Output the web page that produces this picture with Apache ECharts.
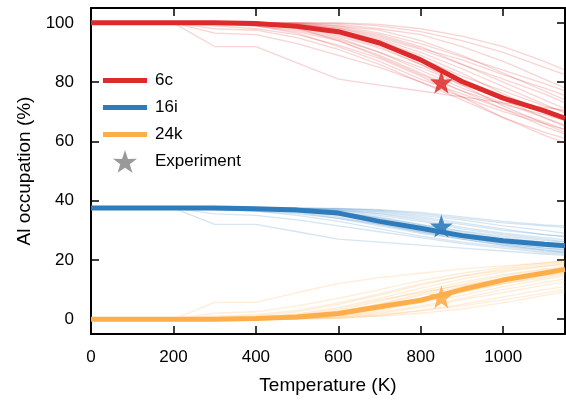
<!DOCTYPE html>
<html>
<head>
<meta charset="utf-8">
<script src="https://cdn.jsdelivr.net/npm/echarts@6/dist/echarts.min.js"></script>
<style>
  html, body { margin: 0; padding: 0; background: #fff; }
  #chart { width: 566px; height: 401px; }
</style>
</head>
<body>
<div id="chart"></div>
<script>
var temps = [0, 100, 200, 300, 400, 500, 600, 700, 800, 900, 1000, 1100, 1150]
var xTicks = [0, 200, 400, 600, 800, 1000]
var yTicks = [0, 20, 40, 60, 80, 100]

// averaged occupations
var occ6c = [100, 100, 100, 100, 99.8, 98.8, 97, 93.2, 87.5, 80.2, 74.6, 70.3, 67.8]
var occ16i = [37.5, 37.5, 37.5, 37.5, 37.3, 36.8, 35.8, 33, 30.7, 28.2, 26.5, 25.3, 24.8]
var occ24k = [0, 0, 0, 0, 0.2, 0.7, 1.9, 4.2, 6.4, 10, 13.2, 15.6, 16.8]

// experiment
var expTemp = 850
var exp6c = 80
var exp16i = 31.4
var exp24k = 7.5

// single runs (thin lines)
var runs6c = [
  [100, 100, 100, 92, 92, 86.5, 81, 79, 77, 75, 73, 71.5, 70.5],
  [100, 100, 100, 96.5, 96, 93, 89, 85, 80, 75, 70, 66, 64],
  [100, 100, 100, 98, 97.5, 95, 91, 86, 80, 74, 68, 63, 61],
  [100, 100, 100, 100, 99, 97, 94, 89, 83, 77, 71, 65, 62.5],
  [100, 100, 100, 100, 99.5, 98.5, 96, 92, 86, 79, 72, 66, 63],
  [100, 100, 100, 100, 100, 99, 97.5, 94, 89, 83, 76, 70, 67],
  [100, 100, 100, 100, 100, 99.5, 98.5, 96, 92, 86, 80, 74, 71],
  [100, 100, 100, 100, 100, 99.8, 99, 97.5, 94, 89, 83, 77, 74],
  [100, 100, 100, 100, 100, 100, 99.5, 98, 96, 92, 87, 81, 78],
  [100, 100, 100, 100, 100, 100, 99.8, 99, 97, 94, 90, 85, 82.5],
  [100, 100, 100, 100, 100, 100, 100, 99.5, 98, 95.5, 92, 87, 84],
  [100, 100, 100, 100, 99.5, 98, 95, 90, 84, 78, 73, 68, 65.5],
  [100, 100, 100, 100, 99, 96.5, 92, 87, 81, 76, 71, 66.5, 64],
  [100, 100, 100, 100, 99.8, 99, 97, 93, 88, 82, 77, 72, 70],
  [100, 100, 100, 100, 100, 99.5, 98, 95, 91, 86, 81, 76, 73],
  [100, 100, 100, 100, 99.8, 98.5, 95.5, 91.5, 86, 80, 74, 68, 65],
  [100, 100, 100, 100, 100, 99.8, 99, 96.5, 93, 88.5, 84, 79.5, 77],
  [100, 100, 100, 99, 98, 96, 92.5, 88, 82, 75, 68, 62, 59.5],
  [100, 100, 100, 100, 99.7, 98.2, 94, 88.5, 82.5, 77, 72.5, 69, 67],
  [100, 100, 100, 100, 100, 99.6, 98.2, 95.5, 91.5, 87.5, 82.5, 78, 75.5],
  [100, 100, 100, 99.5, 99, 97.5, 94.5, 90, 85, 79, 75, 70.5, 68.5],
  [100, 100, 100, 100, 99.9, 99.2, 97.5, 94.5, 90, 84.5, 78.5, 72.5, 69.5]
]
var runs16i = [
  [37.5, 37.5, 37.5, 32, 32, 29.5, 27, 26, 25, 24, 23, 22, 21.5],
  [37.5, 37.5, 37.5, 35.5, 35, 33.5, 31.5, 29.5, 27.5, 25.5, 24, 22.5, 22],
  [37.5, 37.5, 37.5, 37, 36.5, 35, 33, 30.5, 28, 26, 24.5, 23, 22.5],
  [37.5, 37.5, 37.5, 37.5, 37, 36, 34, 31.5, 29, 27, 25, 23.5, 23],
  [37.5, 37.5, 37.5, 37.5, 37.3, 36.7, 35.2, 33, 30.5, 28, 26, 24.5, 24],
  [37.5, 37.5, 37.5, 37.5, 37.5, 37, 36, 34.5, 32, 29.5, 27.5, 26, 25.3],
  [37.5, 37.5, 37.5, 37.5, 37.5, 37.2, 36.7, 35.5, 33.5, 31, 29, 27.5, 26.8],
  [37.5, 37.5, 37.5, 37.5, 37.5, 37.4, 37, 36.2, 34.5, 32.5, 30.5, 28.5, 27.8],
  [37.5, 37.5, 37.5, 37.5, 37.5, 37.5, 37.2, 36.5, 35, 33.5, 31.5, 30, 29],
  [37.5, 37.5, 37.5, 37.5, 37.5, 37.5, 37.3, 36.8, 35.5, 34, 32.5, 31.5, 31],
  [37.5, 37.5, 37.5, 37.5, 37.3, 36.5, 35, 32.5, 30, 27.5, 25.5, 24, 23.5],
  [37.5, 37.5, 37.5, 37.5, 37.4, 37, 36, 34, 31.5, 29, 27, 25.5, 24.8],
  [37.5, 37.5, 37.5, 37.5, 37.5, 37.3, 36.5, 35, 33, 30.5, 28.5, 27, 26.2],
  [37.5, 37.5, 37.5, 37, 36.5, 35.5, 34, 32, 29.5, 27.5, 25.5, 24, 23.5],
  [37.5, 37.5, 37.5, 37.5, 37.5, 37.4, 36.8, 35.8, 34, 32, 30, 28.5, 28],
  [37.5, 37.5, 37.5, 37.5, 37.2, 36.3, 34.5, 32, 29.5, 27, 25, 23.3, 22.5],
  [37.5, 37.5, 37.5, 37.5, 37.5, 37.1, 36.2, 34.2, 31.8, 29.8, 28, 26.6, 26],
  [37.5, 37.5, 37.5, 37.5, 37.5, 37.5, 37.4, 37, 36, 34.5, 33, 31.8, 31.5]
]
var runs24k = [
  [0, 0, 0, 5.7, 5.7, 9, 12, 14, 15.5, 17, 18, 19, 19.5],
  [0, 0, 0, 2, 2.5, 4.5, 7, 10, 13, 15.5, 17.5, 19, 19.8],
  [0, 0, 0, 0.5, 1, 2.5, 5, 8, 11.5, 14.5, 17, 18.5, 19.2],
  [0, 0, 0, 0, 0.5, 1.8, 4, 7, 10.5, 13.5, 16, 17.8, 18.5],
  [0, 0, 0, 0, 0.3, 1, 2.5, 5, 8, 11, 14, 16, 17],
  [0, 0, 0, 0, 0.2, 0.6, 1.5, 3.5, 6, 9, 12, 14.5, 15.5],
  [0, 0, 0, 0, 0, 0.3, 1, 2.5, 4.5, 7, 10, 12.5, 13.5],
  [0, 0, 0, 0, 0, 0.2, 0.6, 1.5, 3, 5, 7.5, 10, 11],
  [0, 0, 0, 0, 0, 0, 0.3, 1, 2, 3.5, 5.5, 8, 9.2],
  [0, 0, 0, 0, 0.2, 0.8, 2, 4, 7, 10, 13, 15.5, 16.5],
  [0, 0, 0, 0, 0.3, 1.2, 3, 6, 9.5, 12.5, 15, 17, 17.8],
  [0, 0, 0, 0, 0.1, 0.4, 1.2, 3, 5.5, 8, 11, 13.5, 14.5],
  [0, 0, 0, 0, 0, 0.2, 0.8, 2, 4, 6.5, 9, 11.5, 12.5],
  [0, 0, 0, 1, 1.5, 3, 5.5, 8.5, 12, 14.5, 16.5, 18, 18.8],
  [0, 0, 0, 0, 0.4, 1.5, 3.5, 6.5, 9, 11.5, 13.5, 15, 15.8],
  [0, 0, 0, 0, 0.1, 0.5, 1.5, 3.5, 6.5, 9.5, 12, 14, 15],
  [0, 0, 0, 0, 0.2, 0.9, 2.5, 5.2, 8.5, 11.8, 14.6, 16.6, 17.4],
  [0, 0, 0, 0, 0, 0.1, 0.4, 1.2, 2.8, 4.5, 6.5, 8.8, 10]
]

var RED = '#dd2a2a'
var BLUE = '#2f7cbc'
var ORANGE = '#fdae4b'
var STAR = 'path://M50,0 L61.8,35.3 L97.6,34.5 L69,56.5 L79.4,90.5 L50,70 L20.6,90.5 L31,56.5 L2.4,34.5 L38.2,35.3 Z'
var FONT = 'Liberation Sans'

function pairs(vals) {
  return temps.map(function(t, i) { return [t, vals[i]] })
}

var series = []
function addRuns(runs, color, opacity) {
  runs.forEach(function(r, k) {
    series.push({
      type: 'line',
      name: 'run' + color + k,
      data: pairs(r),
      symbol: 'none',
      silent: true,
      z: 1,
      lineStyle: { color: color, width: 1.3, opacity: opacity }
    })
  })
}
addRuns(runs6c, RED, 0.2)
addRuns(runs16i, BLUE, 0.2)
addRuns(runs24k, ORANGE, 0.22)

function addMain(name, vals, color) {
  series.push({
    type: 'line',
    name: name,
    data: pairs(vals),
    symbol: 'none',
    z: 3,
    itemStyle: { color: color },
    lineStyle: { color: color, width: 5 }
  })
}
addMain('6c', occ6c, RED)
addMain('16i', occ16i, BLUE)
addMain('24k', occ24k, ORANGE)

series.push({
  type: 'scatter',
  name: 'Experiment',
  symbol: STAR,
  symbolSize: 23,
  z: 4,
  data: [
    { value: [expTemp, exp6c], itemStyle: { color: RED, opacity: 0.85 } },
    { value: [expTemp, exp16i], itemStyle: { color: BLUE, opacity: 0.9 } },
    { value: [expTemp, exp24k], itemStyle: { color: ORANGE, opacity: 0.9 } }
  ]
})

var axisLine = { show: true, onZero: false, lineStyle: { color: '#000', width: 2 } }
var axisTick = { show: true, inside: true, length: 8, lineStyle: { color: '#000', width: 1.5 } }
var plain = function(v) { return String(v) }

var option = {
  animation: false,
  backgroundColor: '#fff',
  textStyle: { fontFamily: FONT },
  grid: { left: 91, right: 1, top: 8, bottom: 67 },
  legend: [
    {
      data: ['6c', '16i', '24k'],
      orient: 'vertical',
      left: 103,
      top: 72,
      padding: 0,
      icon: 'rect',
      itemWidth: 44,
      itemHeight: 5,
      itemGap: 10,
      textStyle: { fontFamily: FONT, fontSize: 17, color: '#000', padding: [0, 0, 0, 3] }
    },
    {
      data: [{ name: 'Experiment', itemStyle: { color: '#808080' } }],
      left: 113,
      top: 150,
      padding: 0,
      itemWidth: 24,
      itemHeight: 24,
      textStyle: { fontFamily: FONT, fontSize: 17, color: '#000', padding: [0, 0, 0, 13] }
    }
  ],
  xAxis: [
    {
      type: 'value',
      min: 0,
      max: 1150,
      position: 'bottom',
      axisLine: axisLine,
      axisTick: Object.assign({ customValues: xTicks }, axisTick),
      splitLine: { show: false },
      axisLabel: { customValues: xTicks, formatter: plain, fontSize: 17, color: '#000', margin: 15, fontFamily: FONT },
      name: 'Temperature (K)',
      nameLocation: 'middle',
      nameGap: 42,
      nameTextStyle: { fontSize: 19, color: '#000', fontFamily: FONT }
    },
    {
      type: 'value',
      min: 0,
      max: 1150,
      position: 'top',
      axisLine: axisLine,
      axisTick: Object.assign({ customValues: xTicks }, axisTick),
      axisLabel: { show: false },
      splitLine: { show: false }
    }
  ],
  yAxis: [
    {
      type: 'value',
      min: -5,
      max: 105,
      position: 'left',
      axisLine: axisLine,
      axisTick: Object.assign({ customValues: yTicks }, axisTick),
      splitLine: { show: false },
      axisLabel: { customValues: yTicks, formatter: plain, fontSize: 17, color: '#000', margin: 17, fontFamily: FONT },
      name: 'Al occupation (%)',
      nameLocation: 'middle',
      nameGap: 51,
      nameTextStyle: { fontSize: 19, color: '#000', fontFamily: FONT }
    },
    {
      type: 'value',
      min: -5,
      max: 105,
      position: 'right',
      axisLine: axisLine,
      axisTick: Object.assign({ customValues: yTicks }, axisTick),
      axisLabel: { show: false },
      splitLine: { show: false }
    }
  ],
  series: series
}

var myChart = echarts.init(document.getElementById('chart'))
myChart.setOption(option)
</script>
</body>
</html>
